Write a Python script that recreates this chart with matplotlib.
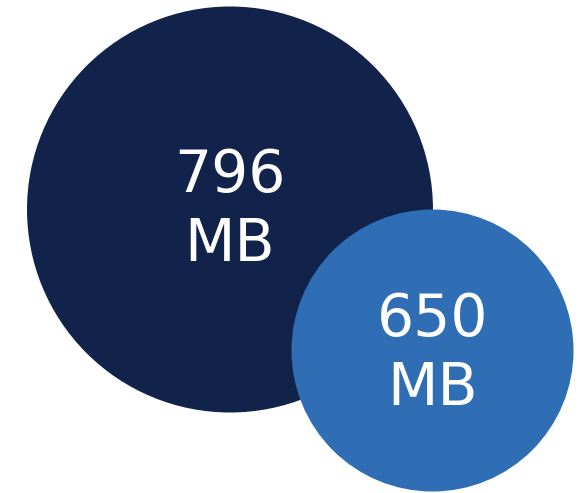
import matplotlib
matplotlib.use("Agg")
import matplotlib.pyplot as plt
from matplotlib.patches import Circle

values = [796, 650]
units = ["MB", "MB"]
colors = ["#12234B", "#2F6EB4"]

# layout (pixel space)
centers = [(230, 209.5), (432.5, 350.5)]
radii = [203, 141]
text_centers = [(230, 210), (432.5, 354)]

W, H = 585, 493
fig = plt.figure(figsize=(W / 100, H / 100), dpi=100)
ax = fig.add_axes([0, 0, 1, 1])
ax.set_xlim(0, W)
ax.set_ylim(H, 0)
ax.set_aspect("equal")
ax.axis("off")

for v, u, c, (cx, cy), r, (tx, ty) in zip(values, units, colors, centers, radii, text_centers):
    ax.add_patch(Circle((cx, cy), r, facecolor=c, edgecolor="none"))
    ax.text(tx, ty - 34.5, f"{v}", ha="center", va="center", color="white",
            fontsize=42, family="DejaVu Sans")
    ax.text(tx, ty + 34.5, u, ha="center", va="center", color="white",
            fontsize=42, family="DejaVu Sans")

fig.savefig("out.png", dpi=100, facecolor="white")
